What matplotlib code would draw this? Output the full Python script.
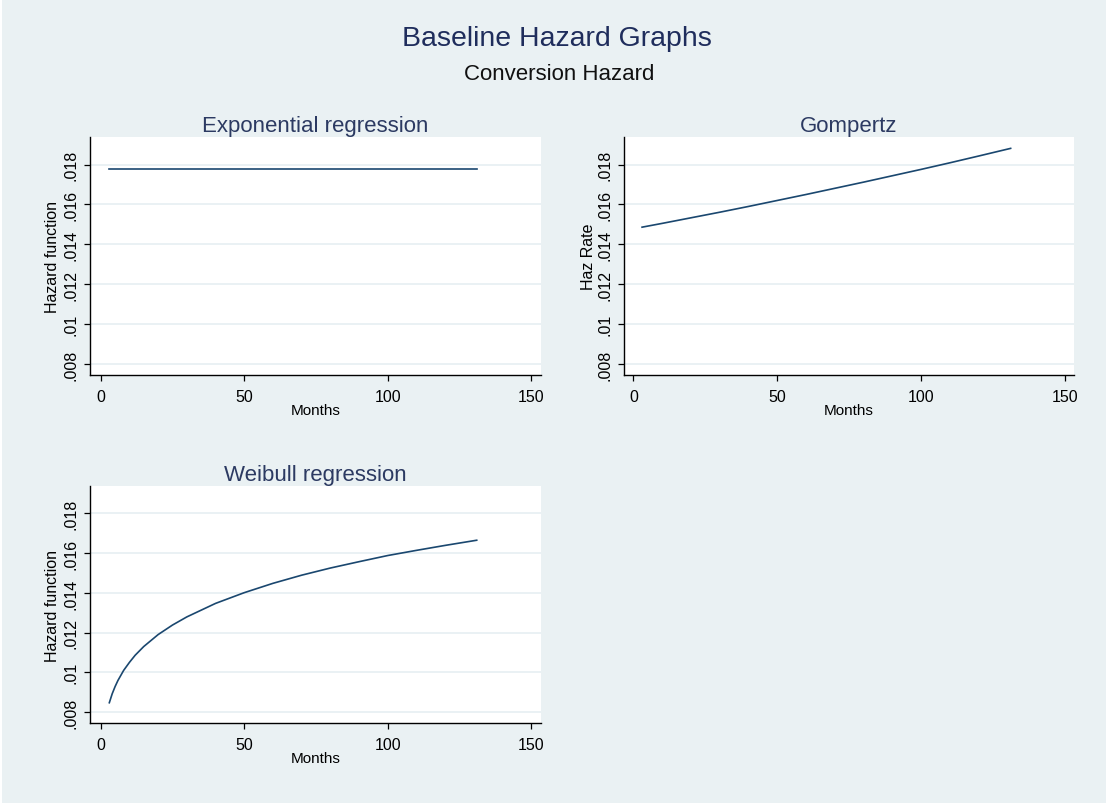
import matplotlib
matplotlib.use("Agg")
import matplotlib.pyplot as plt
from matplotlib.patches import Rectangle

plt.rcParams['font.family'] = ['Liberation Sans', 'DejaVu Sans']

# ---- data ----
exp_months = [3, 131]
exp_hazard = [0.01778, 0.01778]

gomp_months = [3, 10, 20, 30, 40, 50, 60, 70, 80, 90, 100, 110, 120, 131]
gomp_hazard = [0.01486, 0.01505, 0.01533, 0.01561, 0.01590, 0.01620, 0.01650,
               0.01681, 0.01712, 0.01744, 0.01776, 0.01809, 0.01843, 0.01881]

weib_months = [3, 4, 5, 6, 8, 10, 12, 15, 20, 25, 30, 40, 50, 60, 70, 80, 90,
               100, 110, 120, 131]
weib_hazard = [0.00847, 0.00892, 0.00928, 0.00959, 0.01010, 0.01050, 0.01086,
               0.01130, 0.01190, 0.01238, 0.01279, 0.01347, 0.01401, 0.01448,
               0.01489, 0.01525, 0.01557, 0.01588, 0.01614, 0.01639, 0.01665]

x_ticks = [0, 50, 100, 150]
y_ticks = [0.008, 0.010, 0.012, 0.014, 0.016, 0.018]
y_tick_labels = ['.008', '.01', '.012', '.014', '.016', '.018']

main_title = "Baseline Hazard Graphs"
sub_title = "Conversion Hazard"
panel_titles = ["Exponential regression", "Gompertz", "Weibull regression"]
y_labels = ["Hazard function", "Haz Rate", "Hazard function"]
x_label = "Months"

# ---- style ----
W, H = 1106, 804
BG = '#EAF1F3'
GRID = '#E6EFF2'
LINE = '#1A476F'
TITLE_C = '#1F2D5C'
PTITLE_C = '#2C3A62'

fig = plt.figure(figsize=(W / 100, H / 100), dpi=100, facecolor=BG)

# thin white edge at top and left
fig.patches.append(Rectangle((0, 0), 2 / W, 1, transform=fig.transFigure,
                             facecolor='white', edgecolor='none', zorder=0))
fig.patches.append(Rectangle((0, 1 - 1 / H), 1, 1 / H, transform=fig.transFigure,
                             facecolor='white', edgecolor='none', zorder=0))


def rect(l, t, r, b):
    return [l / W, 1 - b / H, (r - l) / W, (b - t) / H]


panels = [
    (rect(90, 138, 541, 376), exp_months, exp_hazard, (-3.73, 153.4), -30),
    (rect(624, 138, 1074, 376), gomp_months, gomp_hazard, (-3.27, 153.0), -28),
    (rect(90, 487, 541, 724), weib_months, weib_hazard, (-3.73, 153.4), -30),
]

for i, (r, xs, ys, xl, yl_off) in enumerate(panels):
    ax = fig.add_axes(r)
    ax.set_facecolor('white')
    ax.plot(xs, ys, color=LINE, lw=1.2)
    ax.set_xlim(*xl)
    ax.set_ylim(0.00745, 0.01938)
    ax.set_xticks(x_ticks)
    ax.set_xticklabels([str(v) for v in x_ticks])
    ax.set_yticks(y_ticks)
    ax.set_yticklabels(y_tick_labels)
    ax.grid(axis='y', color=GRID, lw=1.2)
    ax.set_axisbelow(True)
    for s in ['top', 'right']:
        ax.spines[s].set_visible(False)
    for s in ['left', 'bottom']:
        ax.spines[s].set_color('black')
        ax.spines[s].set_linewidth(1.0)
    ax.tick_params(axis='both', direction='out', length=4.5, width=0.9,
                   color='black', labelsize=11.5, labelcolor='black')
    ax.tick_params(axis='x', pad=5.5)
    ax.tick_params(axis='y', pad=3.5)
    for lab in ax.get_yticklabels():
        lab.set_rotation(90)
        lab.set_va('center')
    ax.set_title(panel_titles[i], fontsize=16, color=PTITLE_C, pad=4)
    ax.set_ylabel(y_labels[i], fontsize=11.5, color='black')
    ax.set_xlabel(x_label, fontsize=11, color='black')
    wpx = r[2] * W
    hpx = r[3] * H
    ax.yaxis.set_label_coords(yl_off / wpx, 0.5)
    ax.xaxis.set_label_coords(0.5, -28.5 / hpx)

fig.text(557 / W, 1 - 39 / H, main_title, ha='center', va='center',
         fontsize=20.5, color=TITLE_C)
fig.text(559 / W, 1 - 75 / H, sub_title, ha='center', va='center',
         fontsize=16, color='#111111')

fig.savefig('out.png', dpi=100, facecolor=BG)
